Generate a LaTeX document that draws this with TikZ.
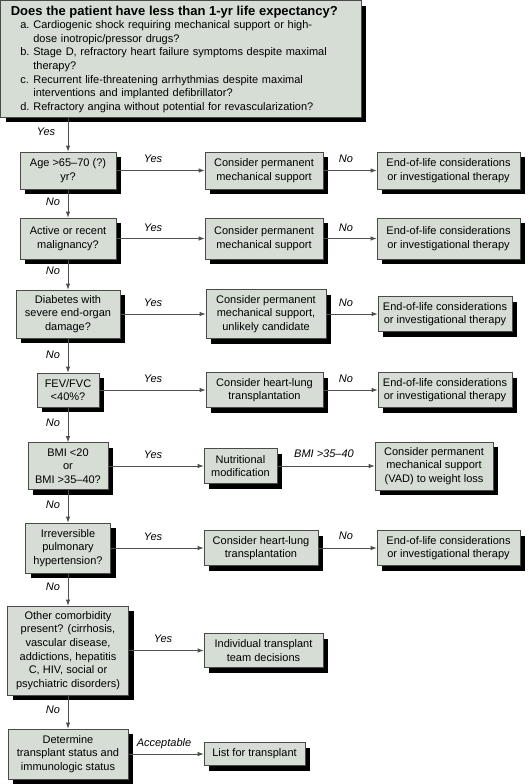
\documentclass[tikz,border=0pt]{standalone}
\usepackage{fontspec}
\setmainfont{Liberation Sans}
\usetikzlibrary{shadows,arrows.meta}
\definecolor{boxfill}{HTML}{D5DDD5}
\definecolor{boxline}{HTML}{4A4A4A}
\definecolor{linegray}{HTML}{505050}
\newcommand{\tpItem}[1]{\hspace*{9.5pt}\makebox[13pt][l]{#1}}
\newcommand{\tpCont}{\hspace*{22.5pt}}
\begin{document}
\begin{tikzpicture}[x=1pt,y=-1pt,
  box/.style={draw=boxline, line width=0.7pt, fill=boxfill, inner sep=0pt,
    align=center, font=\fontsize{11}{13.6}\selectfont,
    general shadow={fill=black, shadow xshift=5pt, shadow yshift=-5pt}},
  conn/.style={draw=linegray, line width=0.8pt, -{Latex[length=6pt,width=4.5pt]}},
  lab/.style={font=\fontsize{11}{12}\selectfont\itshape, inner sep=0pt}]
\useasboundingbox (0,0) rectangle (529,784);

% top question
\node[box, anchor=north west, align=left, text width=340.5pt, inner xsep=10pt,
  minimum width=360.5pt, minimum height=116.5pt] (top) at (0.5,0.5)
{{\fontsize{13}{13.4}\selectfont\bfseries Does the patient have less than 1-yr life expectancy?}\\
\tpItem{a.}Cardiogenic shock requiring mechanical support or high-\\
\tpCont dose inotropic/pressor drugs?\\
\tpItem{b.}Stage D, refractory heart failure symptoms despite maximal\\
\tpCont therapy?\\
\tpItem{c.}Recurrent life-threatening arrhythmias despite maximal\\
\tpCont interventions and implanted defibrillator?\\
\tpItem{d.}Refractory angina without potential for revascularization?};

% left column
\node[box, minimum width=96pt, minimum height=37pt] (age) at (68,170.5) {Age >65--70 (?)\\yr?};
\node[box, minimum width=96pt, minimum height=41pt] (mal) at (68,238.5) {Active or recent\\malignancy?};
\node[box, minimum width=104pt, minimum height=48pt] (dia) at (68,314) {Diabetes with\\severe end-organ\\damage?};
\node[box, minimum width=62pt, minimum height=34pt] (fev) at (68,390) {FEV/FVC\\<40\%?};
\node[box, minimum width=80pt, minimum height=47pt] (bmi) at (68,466) {BMI <20\\or\\BMI >35--40?};
\node[box, minimum width=85pt, minimum height=50pt] (irr) at (68,548) {Irreversible\\pulmonary\\hypertension?};
\node[box, minimum width=121pt, minimum height=89pt] (oth) at (68,650.5) {Other comorbidity\\present? (cirrhosis,\\vascular disease,\\addictions, hepatitis\\C, HIV, social or\\psychiatric disorders)};
\node[box, minimum width=120pt, minimum height=50pt] (det) at (68,754) {Determine\\transplant status and\\immunologic status};

% middle column
\node[box, minimum width=118pt, minimum height=37pt] (c1) at (264,170.5) {Consider permanent\\mechanical support};
\node[box, minimum width=118pt, minimum height=41pt] (c2) at (264,238.5) {Consider permanent\\mechanical support};
\node[box, minimum width=120pt, minimum height=49pt] (c3) at (266,314) {Consider permanent\\mechanical support,\\unlikely candidate};
\node[box, minimum width=117pt, minimum height=35pt] (c4) at (264.5,390) {Consider heart-lung\\transplantation};
\node[box, minimum width=73pt, minimum height=35pt] (nut) at (240.5,466) {Nutritional\\modification};
\node[box, minimum width=114pt, minimum height=35pt] (c6) at (261,548) {Consider heart-lung\\transplantation};
\node[box, minimum width=119pt, minimum height=34pt] (ind) at (263.5,650.5) {Individual transplant\\team decisions};
\node[box, minimum width=101pt, minimum height=23pt] (lst) at (254.5,754) {List for transplant};

% right column
\node[box, minimum width=143pt, minimum height=37pt] (e1) at (448.5,170.5) {End-of-life considerations\\or investigational therapy};
\node[box, minimum width=143pt, minimum height=41pt] (e2) at (448.5,238.5) {End-of-life considerations\\or investigational therapy};
\node[box, minimum width=134pt, minimum height=35pt] (e3) at (445,314) {End-of-life considerations\\or investigational therapy};
\node[box, minimum width=134pt, minimum height=35pt] (e4) at (445,390) {End-of-life considerations\\or investigational therapy};
\node[box, minimum width=118pt, minimum height=48pt] (vad) at (434,466) {Consider permanent\\mechanical support\\(VAD) to weight loss};
\node[box, minimum width=143pt, minimum height=35pt] (e6) at (448.5,548) {End-of-life considerations\\or investigational therapy};

% vertical connectors
\draw[conn] (top.south -| age) -- (age.north);
\draw[conn] (age.south) -- (mal.north);
\draw[conn] (mal.south) -- (dia.north);
\draw[conn] (dia.south) -- (fev.north);
\draw[conn] (fev.south) -- (bmi.north);
\draw[conn] (bmi.south) -- (irr.north);
\draw[conn] (irr.south) -- (oth.north);
\draw[conn] (oth.south) -- (det.north);

% horizontal connectors
\draw[conn] (age.east) -- (c1.west);
\draw[conn] (c1.east) -- (e1.west);
\draw[conn] (mal.east) -- (c2.west);
\draw[conn] (c2.east) -- (e2.west);
\draw[conn] (dia.east) -- (c3.west);
\draw[conn] (c3.east) -- (e3.west);
\draw[conn] (fev.east) -- (c4.west);
\draw[conn] (c4.east) -- (e4.west);
\draw[conn] (bmi.east) -- (nut.west);
\draw[conn] (nut.east) -- (vad.west);
\draw[conn] (irr.east) -- (c6.west);
\draw[conn] (c6.east) -- (e6.west);
\draw[conn] (oth.east) -- (ind.west);
\draw[conn] (det.east) -- (lst.west);

% vertical labels
\node[lab] (v0) at (46,132) {Yes};
\node[lab] (v1) at (53,202) {No};
\node[lab] (v2) at (53,271) {No};
\node[lab] (v3) at (53,355) {No};
\node[lab] (v4) at (53,423) {No};
\node[lab] (v5) at (53,505) {No};
\node[lab] (v6) at (53,587) {No};
\node[lab] (v7) at (53,710) {No};

% horizontal labels
\node[lab] (y1) at (153,159) {Yes};
\node[lab] (n1) at (346,158.5) {No};
\node[lab] (y2) at (153,228) {Yes};
\node[lab] (n2) at (346,228) {No};
\node[lab] (y3) at (153,303) {Yes};
\node[lab] (n3) at (346,303) {No};
\node[lab] (y4) at (153,379) {Yes};
\node[lab] (n4) at (346,379) {No};
\node[lab] (y5) at (153,455) {Yes};
\node[lab] (b5) at (324,454) {BMI >35--40};
\node[lab] (y6) at (153,537) {Yes};
\node[lab] (n6) at (346,536) {No};
\node[lab] (y7) at (163,639) {Yes};
\node[lab] (a8) at (164,744) {Acceptable};
\end{tikzpicture}
\end{document}
